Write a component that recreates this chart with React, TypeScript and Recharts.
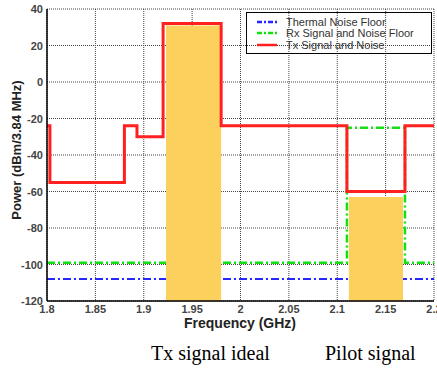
import { ComposedChart, Area, Line, XAxis, YAxis, CartesianGrid } from "recharts";

// frequency (GHz) / power (dBm per 3.84 MHz)
const freqTicks = [1.8, 1.85, 1.9, 1.95, 2, 2.05, 2.1, 2.15, 2.2];
const powerTicks = [40, 20, 0, -20, -40, -60, -80, -100, -120];

const txFreq = [1.8, 1.803, 1.803, 1.88, 1.88, 1.893, 1.893, 1.92, 1.92, 1.98, 1.98, 2.11, 2.11, 2.17, 2.17, 2.2];
const txPower = [-24, -24, -55, -55, -24, -24, -30, -30, 32, 32, -24, -24, -60, -60, -24, -24];

const rxFreq = [1.8, 2.11, 2.11, 2.17, 2.17, 2.2];
const rxPower = [-99, -99, -25, -25, -99, -99];

const thermalFreq = [1.8, 2.2];
const thermalPower = [-108, -108];

const txIdealFreq = [1.923, 1.98];
const txIdealPower = [31, 31];

const pilotFreq = [2.112, 2.168];
const pilotPower = [-63, -63];

const legendItems = [
  { name: "Thermal Noise Floor", color: "#2626ff", dash: "5 2 2 2" },
  { name: "Rx Signal and Noise Floor", color: "#11e011", dash: "5 2 2 2" },
  { name: "Tx Signal and Noise", color: "#ff2020", dash: undefined },
];

function toRows(f: number[], p: number[]) {
  return f.map((x, i) => ({ f: x, p: p[i] }));
}

const sans = "Liberation Sans, Arial, sans-serif";
const yellow = "#fcd05c";

function XTick(props: any) {
  const { x, y, payload } = props;
  return (
    <text x={x} y={y + 12} textAnchor="middle" fontSize={11} fontWeight={700} fill="#444" fontFamily={sans}>
      {String(payload.value)}
    </text>
  );
}

function YTick(props: any) {
  const { x, y, payload } = props;
  return (
    <text x={x} y={y + 4} textAnchor="end" fontSize={11} fontWeight={700} fill="#444" fontFamily={sans}>
      {String(payload.value)}
    </text>
  );
}

export default function App() {
  return (
    <div style={{ position: "absolute", left: 0, top: 0, width: 437, height: 369, background: "#fff", overflow: "hidden" }}>
      <ComposedChart width={437} height={369} margin={{ top: 9, right: 3, left: 0, bottom: 0 }}>
        <CartesianGrid stroke="#444" strokeDasharray="1 1" />
        <XAxis
          dataKey="f"
          type="number"
          domain={[1.8, 2.2]}
          ticks={freqTicks}
          interval={0}
          allowDataOverflow
          height={68}
          tickSize={0}
          tickLine={false}
          tickMargin={0}
          tick={<XTick />}
          axisLine={{ stroke: "#000", strokeWidth: 1.5 }}
        />
        <XAxis
          xAxisId="top"
          orientation="top"
          dataKey="f"
          type="number"
          domain={[1.8, 2.2]}
          height={0}
          tick={false}
          tickLine={false}
          axisLine={{ stroke: "#222", strokeWidth: 1.2 }}
        />
        <YAxis
          type="number"
          domain={[-120, 40]}
          ticks={powerTicks}
          interval={0}
          allowDataOverflow
          width={47}
          tickSize={0}
          tickMargin={4}
          tickLine={false}
          tick={<YTick />}
          axisLine={{ stroke: "#000", strokeWidth: 1.5 }}
        />
        <Area
          data={toRows(thermalFreq, thermalPower)}
          dataKey="p"
          type="linear"
          fill="none"
          stroke="#2626ff"
          strokeWidth={2}
          strokeDasharray="8 3 2 3"
          dot={false}
          activeDot={false}
          isAnimationActive={false}
        />
        <Area
          data={toRows(rxFreq, rxPower)}
          dataKey="p"
          type="linear"
          fill="none"
          stroke="#11e011"
          strokeWidth={2.5}
          strokeDasharray="8 3 2 3"
          dot={false}
          activeDot={false}
          isAnimationActive={false}
        />
        <Area
          data={toRows(txIdealFreq, txIdealPower)}
          dataKey="p"
          type="linear"
          baseValue={-120}
          fill={yellow}
          fillOpacity={1}
          stroke="none"
          dot={false}
          activeDot={false}
          isAnimationActive={false}
        />
        <Area
          data={toRows(pilotFreq, pilotPower)}
          dataKey="p"
          type="linear"
          baseValue={-120}
          fill={yellow}
          fillOpacity={1}
          stroke="none"
          dot={false}
          activeDot={false}
          isAnimationActive={false}
        />
        <Line
          data={toRows(txFreq, txPower)}
          dataKey="p"
          type="linear"
          stroke="#ff2020"
          strokeWidth={3}
          dot={false}
          activeDot={false}
          isAnimationActive={false}
        />
      </ComposedChart>

      {/* legend box, transparent like the source figure */}
      <div
        style={{
          position: "absolute",
          left: 246,
          top: 12,
          width: 184,
          height: 40,
          border: "1.5px solid #000",
          fontFamily: sans,
          fontSize: 11,
          color: "#333",
        }}
      >
        {legendItems.map((it, i) => (
          <div key={it.name} style={{ position: "absolute", left: 10, top: 2.5 + i * 11.5, height: 12, display: "flex", alignItems: "center" }}>
            <svg width={20} height={4} style={{ marginRight: 9 }}>
              <line x1={0} y1={2} x2={20} y2={2} stroke={it.color} strokeWidth={2.5} strokeDasharray={it.dash} />
            </svg>
            <span>{it.name}</span>
          </div>
        ))}
      </div>

      <div
        style={{
          position: "absolute",
          left: 16,
          top: 150,
          transform: "translate(-50%, -50%) rotate(-90deg)",
          whiteSpace: "nowrap",
          fontFamily: sans,
          fontWeight: 700,
          fontSize: 13,
          color: "#222",
        }}
      >
        Power (dBm/3.84 MHz)
      </div>
      <div
        style={{
          position: "absolute",
          left: 240,
          top: 323,
          transform: "translate(-50%, -50%)",
          whiteSpace: "nowrap",
          fontFamily: sans,
          fontWeight: 700,
          fontSize: 14,
          color: "#222",
        }}
      >
        Frequency (GHz)
      </div>

      <div style={{ position: "absolute", left: 151, top: 343, fontFamily: "Liberation Serif, Times New Roman, serif", fontSize: 20, lineHeight: 1, color: "#000", whiteSpace: "nowrap" }}>
        Tx signal ideal
      </div>
      <div style={{ position: "absolute", left: 325, top: 343, fontFamily: "Liberation Serif, Times New Roman, serif", fontSize: 20, lineHeight: 1, color: "#000", whiteSpace: "nowrap" }}>
        Pilot signal
      </div>
    </div>
  );
}
